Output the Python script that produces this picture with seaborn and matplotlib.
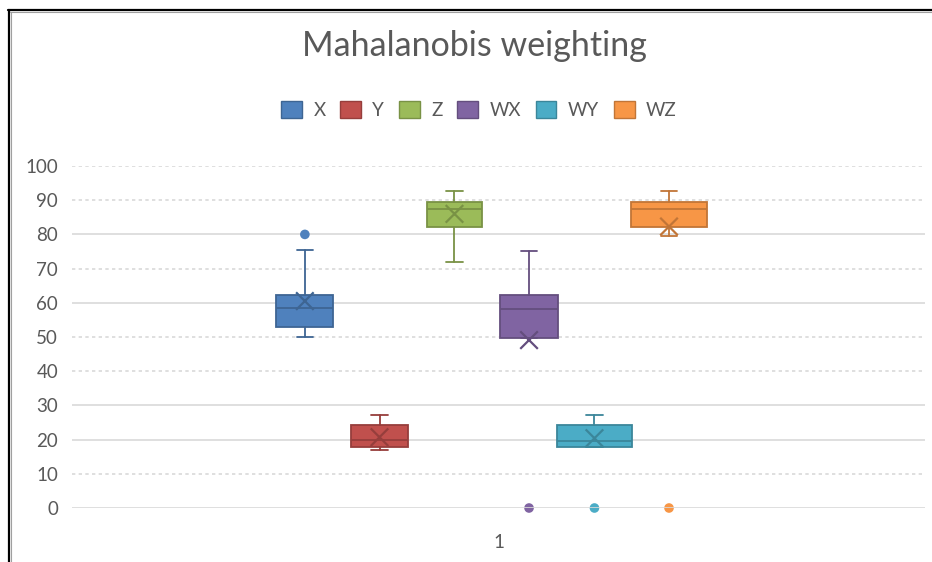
import matplotlib
matplotlib.use("Agg")
import matplotlib.pyplot as plt
from matplotlib.patches import Patch
from matplotlib.lines import Line2D
from matplotlib.colors import to_rgb
import seaborn as sns
import pandas as pd

# Summary statistics of each series (box plot of one category "1")
series = ["X", "Y", "Z", "WX", "WY", "WZ"]
whisker_low = [50.0, 17.0, 72.0, 49.7, 17.9, 79.4]
q1 = [53.0, 17.9, 82.1, 49.7, 17.9, 82.1]
median = [58.4, 19.8, 87.3, 58.3, 19.7, 87.3]
q3 = [62.3, 24.4, 89.6, 62.3, 24.3, 89.6]
whisker_high = [75.3, 27.2, 92.8, 75.2, 27.1, 92.8]
mean = [60.5, 20.7, 86.0, 49.1, 20.4, 82.3]
outliers = {"X": [80.0], "Y": [], "Z": [], "WX": [0.0], "WY": [0.0], "WZ": [0.0]}
category = "1"
y_ticks = [0, 10, 20, 30, 40, 50, 60, 70, 80, 90, 100]

colors = ["#4F81BD", "#C0504D", "#9BBB59", "#8064A2", "#4BACC6", "#F79646"]

# Slot layout of the six boxes around the category centre
offsets = [-0.227, -0.1395, -0.0516, 0.0358, 0.1125, 0.1999]
widths = [0.067, 0.067, 0.065, 0.068, 0.088, 0.090]


def darker(c, f=0.78):
    r, g, b = to_rgb(c)
    return (r * f, g * f, b * f)


sns.set_theme(style="white")
plt.rcParams["font.family"] = ["Lato", "DejaVu Sans"]
text_grey = "#595959"
grid_grey = "#D9D9D9"

fig = plt.figure(figsize=(9.32, 5.62), dpi=100)
fig.patch.set_facecolor("white")
ax = fig.add_axes([72 / 932, 1 - 508 / 562, 853 / 932, 342 / 562])

# Gridlines (value axis)
dashed = {10, 40, 50, 70, 90, 100}
for t in y_ticks:
    ax.axhline(t, color=grid_grey, lw=1.2, zorder=1 if t else 2.5,
               ls=(0, (2, 2)) if t in dashed else "-")

for i, name in enumerate(series):
    edge = darker(colors[i])
    stats = [dict(med=median[i], q1=q1[i], q3=q3[i], whislo=whisker_low[i],
                  whishi=whisker_high[i], fliers=[], label=name)]
    ax.bxp(stats, positions=[offsets[i]], widths=widths[i], patch_artist=True,
           showfliers=False, showmeans=False, manage_ticks=False,
           boxprops=dict(facecolor=colors[i], edgecolor=edge, lw=1.3),
           medianprops=dict(color=edge, lw=1.3),
           whiskerprops=dict(color=edge, lw=1.3),
           capprops=dict(color=edge, lw=1.3),
           capwidths=0.019, zorder=3)

pos = [offsets[i] for i in range(len(series))]
means_df = pd.DataFrame({"x": pos, "y": mean, "s": series})
sns.scatterplot(data=means_df, x="x", y="y", hue="s", marker="x", s=160,
                linewidth=1.6, palette=[darker(c) for c in colors],
                legend=False, ax=ax, zorder=4)

fl_x, fl_y, fl_s = [], [], []
for i, name in enumerate(series):
    for v in outliers[name]:
        fl_x.append(offsets[i])
        fl_y.append(v)
        fl_s.append(name)
fl_df = pd.DataFrame({"x": fl_x, "y": fl_y, "s": fl_s})
sns.scatterplot(data=fl_df, x="x", y="y", hue="s", s=48, linewidth=0,
                palette={n: colors[i] for i, n in enumerate(series)},
                legend=False, ax=ax, zorder=2, clip_on=False)

ax.set_xlim(-0.5, 0.5)
ax.set_ylim(0, 100)
ax.set_yticks(y_ticks)
ax.set_xticks([0])
ax.set_xticklabels([category])
ax.set_xlabel("")
ax.set_ylabel("")
ax.tick_params(axis="both", length=0, labelsize=13.5, colors=text_grey)
ax.tick_params(axis="y", pad=10)
ax.tick_params(axis="x", pad=19)
for sp in ax.spines.values():
    sp.set_visible(False)
ax.grid(False)

fig.text(474.5 / 932, 1 - 46 / 562, "Mahalanobis weighting", ha="center",
         va="center", fontsize=24.5, color=text_grey)

handles = [Patch(facecolor=colors[i], edgecolor=darker(colors[i]), lw=1.0,
                 label=n) for i, n in enumerate(series)]
fig.legend(handles=handles, loc="center", bbox_to_anchor=(479 / 932, 1 - 110 / 562),
           ncol=6, frameon=False, fontsize=13.5, labelcolor=text_grey,
           handlelength=1.1, handleheight=1.0, handletextpad=0.6,
           columnspacing=0.8)

# Frame lines along the top and left edges
fig.add_artist(Line2D([8 / 932, 1], [1 - 9.5 / 562, 1 - 9.5 / 562],
                      transform=fig.transFigure, color="black", lw=1.6))
fig.add_artist(Line2D([8.5 / 932, 8.5 / 932], [0, 1 - 9.5 / 562],
                      transform=fig.transFigure, color="black", lw=1.6))
fig.add_artist(Line2D([10 / 932, 1], [1 - 11.5 / 562, 1 - 11.5 / 562],
                      transform=fig.transFigure, color="#A0A0A0", lw=0.8))
fig.add_artist(Line2D([10.5 / 932, 10.5 / 932], [0, 1 - 11.5 / 562],
                      transform=fig.transFigure, color="#A0A0A0", lw=0.8))

fig.savefig("out.png", dpi=100)
